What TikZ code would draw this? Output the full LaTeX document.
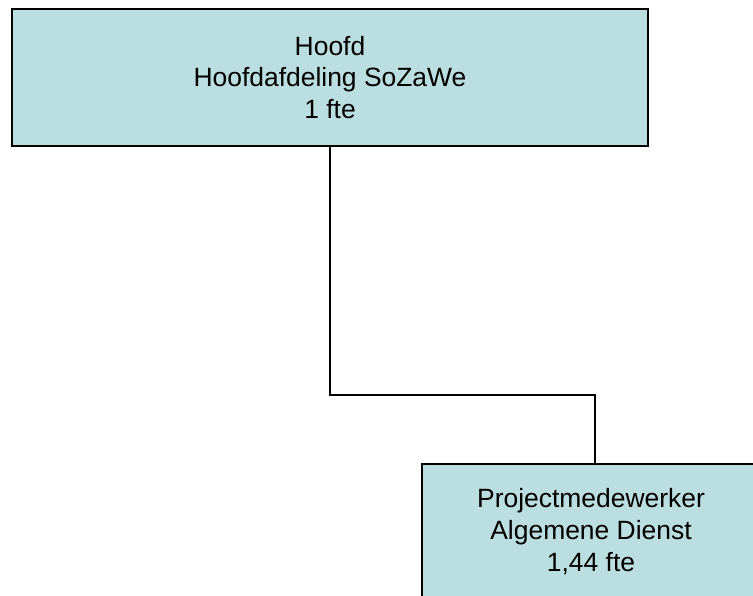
\documentclass[tikz,border=0pt]{standalone}
\usepackage{fontspec}
\setmainfont{Liberation Sans}
\definecolor{boxfill}{RGB}{187,222,224}
\tikzset{
    OB/.style ={rectangle, draw, line width=1.5pt, fill=boxfill, minimum width=636*0.025cm,
                minimum height=137*0.025cm, align=center, font=\fontsize{18.8}{22.7}\selectfont, inner sep=0pt},
    CN/.style ={line width=1.3pt}}
\begin{document}
\begin{tikzpicture}[x=0.025cm,y=-0.025cm]
    \clip (0,0) rectangle (753,595);
    \useasboundingbox (0,0) rectangle (753,595);
        \node[OB] (hoofd) at(330,77.5){Hoofd\\Hoofdafdeling SoZaWe\\1 fte};
        \node[OB, minimum width=380*0.025cm, minimum height=160*0.025cm, anchor=north west] (pmw) at(421,463){};
        \node[align=center, font=\fontsize{18.8}{22.7}\selectfont, inner sep=0pt] (pmwtext) at(591,531.5){Projectmedewerker\\Algemene Dienst\\1,44 fte};
        \coordinate (bend) at(595,395);
        \draw[CN] (hoofd.south) |- (bend) -- (bend |- pmw.north);
    \end{tikzpicture}
\end{document}
